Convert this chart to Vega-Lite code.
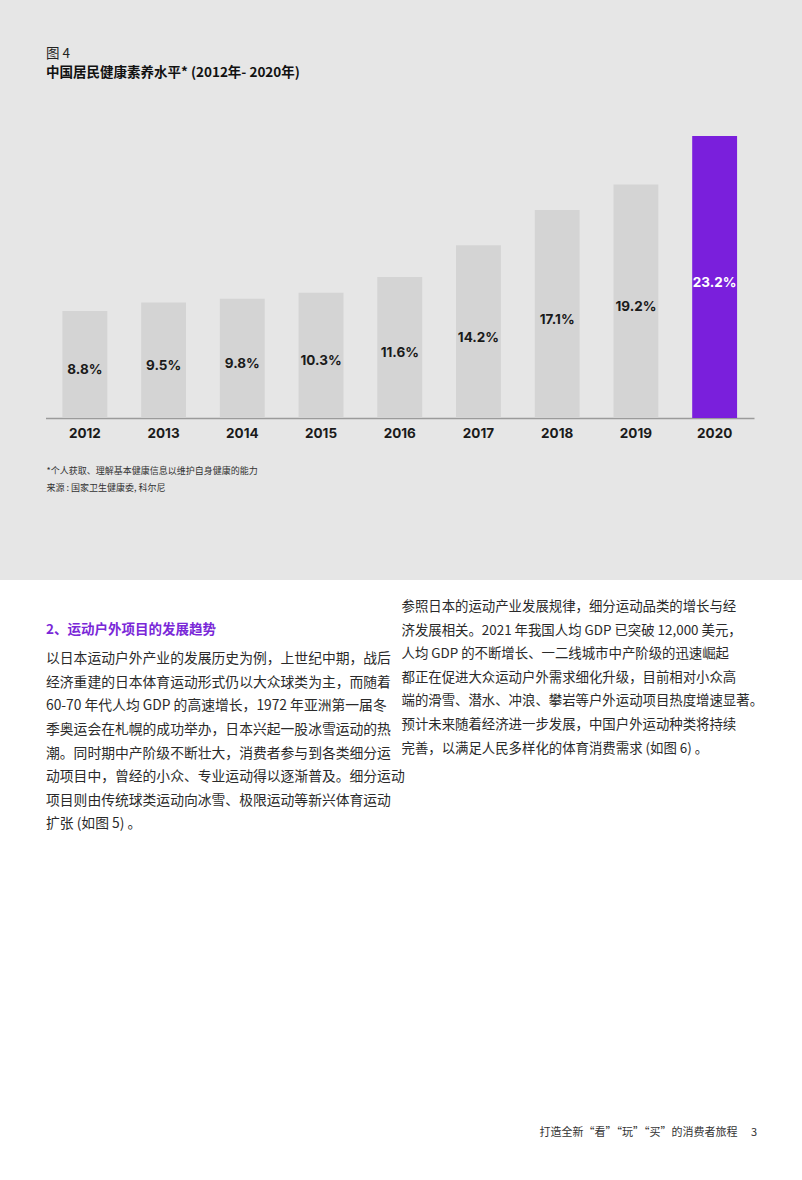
{
  "$schema": "https://vega.github.io/schema/vega-lite/v6.json",
  "background": "#e6e6e6",
  "padding": {"top": 47, "left": 0, "right": 0, "bottom": 0},
  "spacing": 88,
  "config": {"view": {"stroke": null}, "font": "Noto Sans CJK SC"},
  "datasets": {
    "health": [
      {"year": 2012, "value": 8.8},
      {"year": 2013, "value": 9.5},
      {"year": 2014, "value": 9.8},
      {"year": 2015, "value": 10.3},
      {"year": 2016, "value": 11.6},
      {"year": 2017, "value": 14.2},
      {"year": 2018, "value": 17.1},
      {"year": 2019, "value": 19.2},
      {"year": 2020, "value": 23.2}
    ],
    "heading": [
      {"col": "left", "line": 1, "text": "2、运动户外项目的发展趋势"}
    ],
    "leftBody": [
      {"col": "left", "line": 2, "text": "以日本运动户外产业的发展历史为例，上世纪中期，战后"},
      {"col": "left", "line": 3, "text": "经济重建的日本体育运动形式仍以大众球类为主，而随着"},
      {"col": "left", "line": 4, "text": "60-70 年代人均 GDP 的高速增长，1972 年亚洲第一届冬"},
      {"col": "left", "line": 5, "text": "季奥运会在札幌的成功举办，日本兴起一股冰雪运动的热"},
      {"col": "left", "line": 6, "text": "潮。同时期中产阶级不断壮大，消费者参与到各类细分运"},
      {"col": "left", "line": 7, "text": "动项目中，曾经的小众、专业运动得以逐渐普及。细分运动"},
      {"col": "left", "line": 8, "text": "项目则由传统球类运动向冰雪、极限运动等新兴体育运动"},
      {"col": "left", "line": 9, "text": "扩张 (如图 5) 。"}
    ],
    "rightBody": [
      {"col": "right", "line": 0, "text": "参照日本的运动产业发展规律，细分运动品类的增长与经"},
      {"col": "right", "line": 1, "text": "济发展相关。2021 年我国人均 GDP 已突破 12,000 美元，"},
      {"col": "right", "line": 2, "text": "人均 GDP 的不断增长、一二线城市中产阶级的迅速崛起"},
      {"col": "right", "line": 3, "text": "都正在促进大众运动户外需求细化升级，目前相对小众高"},
      {"col": "right", "line": 4, "text": "端的滑雪、潜水、冲浪、攀岩等户外运动项目热度增速显著。"},
      {"col": "right", "line": 5, "text": "预计未来随着经济进一步发展，中国户外运动种类将持续"},
      {"col": "right", "line": 6, "text": "完善，以满足人民多样化的体育消费需求 (如图 6) 。"}
    ],
    "footer": [
      {"col": "footer", "line": 22, "text": "打造全新“看”“玩”“买”的消费者旅程　 3"}
    ]
  },
  "vconcat": [
    {
      "width": 802,
      "height": 317,
      "title": {
        "text": "图 4",
        "subtitle": "中国居民健康素养水平* (2012年- 2020年)",
        "anchor": "start",
        "frame": "group",
        "dx": 46,
        "offset": 22,
        "font": "Noto Sans CJK SC",
        "fontSize": 13.5,
        "fontWeight": "normal",
        "color": "#222222",
        "subtitleFont": "Noto Sans CJK SC",
        "subtitleFontSize": 13.5,
        "subtitleFontWeight": "bold",
        "subtitleColor": "#111111",
        "subtitlePadding": 5
      },
      "data": {"name": "health"},
      "encoding": {
        "x": {
          "field": "year",
          "type": "ordinal",
          "scale": {"range": [45.5, 754], "paddingInner": 0.43, "paddingOuter": 0.215},
          "axis": {
            "domainColor": "#9b9b9b",
            "domainWidth": 1.5,
            "ticks": false,
            "grid": false,
            "labelAngle": 0,
            "labelFont": "Inter",
            "labelFontSize": 13.5,
            "labelFontWeight": "bold",
            "labelColor": "#1a1a1a",
            "labelPadding": 8,
            "title": ["*个人获取、理解基本健康信息以维护自身健康的能力", "来源 : 国家卫生健康委, 科尔尼"],
            "titleFont": "Noto Sans CJK SC",
            "titleFontSize": 9,
            "titleFontWeight": "normal",
            "titleColor": "#333333",
            "titleX": 46,
            "titleY": 48,
            "titleAlign": "left",
            "titleAnchor": "start",
            "titleBaseline": "top",
            "titleLineHeight": 17
          }
        }
      },
      "layer": [
        {
          "mark": {"type": "bar"},
          "encoding": {
            "y": {"field": "value", "type": "quantitative", "scale": {"domain": [0, 26.07], "nice": false, "zero": true}, "axis": null},
            "color": {"condition": {"test": "datum.year === 2020", "value": "#7a1fdc"}, "value": "#d4d4d4"}
          }
        },
        {
          "transform": [
            {"calculate": "datum.value / 2", "as": "mid"},
            {"calculate": "format(datum.value, '.1f') + '%'", "as": "label"}
          ],
          "mark": {"type": "text", "font": "Inter", "fontSize": 13.5, "fontWeight": "bold", "dy": 6},
          "encoding": {
            "y": {"field": "mid", "type": "quantitative", "scale": {"domain": [0, 26.07], "nice": false, "zero": true}, "axis": null},
            "text": {"field": "label"},
            "color": {"condition": {"test": "datum.year === 2020", "value": "#ffffff"}, "value": "#1a1a1a"}
          }
        }
      ]
    },
    {
      "width": 802,
      "height": 602,
      "view": {"fill": "#ffffff", "stroke": null},
      "encoding": {
        "x": {"field": "col", "type": "nominal", "scale": {"domain": ["left", "right", "footer"], "range": [46, 757], "padding": 0}, "axis": null},
        "y": {"field": "line", "type": "quantitative", "scale": {"domain": [-1.144, 24.364], "reverse": true, "nice": false, "zero": false}, "axis": null},
        "text": {"field": "text"}
      },
      "layer": [
        {
          "data": {"name": "heading"},
          "mark": {"type": "text", "align": "left", "baseline": "middle", "dy": -1, "font": "Noto Sans CJK SC", "fontSize": 13.5, "fontWeight": "bold", "color": "#7a28d8"}
        },
        {
          "data": {"name": "leftBody"},
          "mark": {"type": "text", "align": "left", "baseline": "middle", "dy": 5, "font": "Noto Sans CJK SC", "fontSize": 13.8, "color": "#2a2a2a"}
        },
        {
          "data": {"name": "rightBody"},
          "mark": {"type": "text", "align": "left", "baseline": "middle", "font": "Noto Sans CJK SC", "fontSize": 13.4, "color": "#2a2a2a"}
        },
        {
          "data": {"name": "footer"},
          "mark": {"type": "text", "align": "right", "baseline": "middle", "dy": 7, "font": "Noto Sans CJK SC", "fontSize": 11, "color": "#333333"}
        }
      ]
    }
  ]
}
